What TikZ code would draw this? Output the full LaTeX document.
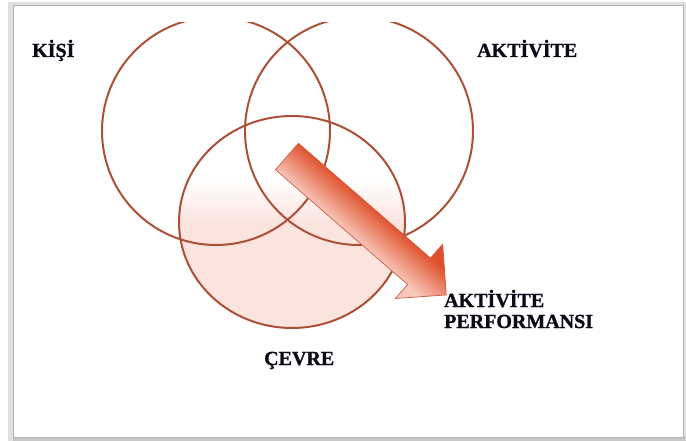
\documentclass[tikz,border=0pt]{standalone}
\usepackage{fontspec}
\setmainfont{Liberation Serif}[BoldFeatures={FakeBold=1.2}]
\definecolor{ringc}{RGB}{172,80,56}
\definecolor{pinkc}{RGB}{251,227,222}
\definecolor{arrowdark}{RGB}{222,80,42}
\definecolor{arrowlight}{RGB}{249,200,188}
\definecolor{arrowedge}{RGB}{205,92,66}
\definecolor{lblc}{RGB}{12,12,24}
\pgfdeclareverticalshading{cevrefill}{100bp}{color(0bp)=(pinkc); color(50bp)=(pinkc); color(60bp)=(white); color(100bp)=(white)}
\pgfdeclareverticalshading{arrowfill}{100bp}{color(0bp)=(arrowlight); color(37bp)=(arrowlight); color(63bp)=(arrowdark); color(100bp)=(arrowdark)}
\begin{document}
\begin{tikzpicture}[x=1pt,y=-1pt,
  ring/.style={draw=ringc, line width=2pt},
  lbl/.style={font=\fontsize{20}{21}\selectfont\bfseries, text=lblc, inner sep=0pt}]
\useasboundingbox (0,0) rectangle (686,441);
% frame with shadow
\fill[black!12] (8,2) rectangle (686,441);
\fill[black!22] (13,436) rectangle (686,441);
\fill[white] (13,5) rectangle (683,437);
\draw[black!30, line width=0.8pt] (13,5) rectangle (683,437);
% circles
\begin{scope}
  \clip (13,23) rectangle (683,437);
  \shade[shading=cevrefill] (292,222) ellipse [x radius=113pt, y radius=106pt];
  \draw[ring] (216,131) circle [radius=114pt];
  \draw[ring] (359,131) circle [radius=114pt];
  \draw[ring] (292,222) ellipse [x radius=113pt, y radius=106pt];
\end{scope}
% arrow
\begin{scope}[transform canvas={shift={(287,156.5)}, rotate=-41}]
  \shade[shading=arrowfill, draw=arrowedge, line width=0.7pt, line join=miter]
    (0,-17.5) -- (175,-17.5) -- (175,-36) -- (211,0) -- (175,36) -- (175,17.5) -- (0,17.5) -- cycle;
\end{scope}
% labels
\node[lbl, anchor=base west] (kisi) at (32,57) {KİŞİ};
\node[lbl, anchor=base west] (aktivite) at (477,57) {AKTİVİTE};
\node[lbl, anchor=base west, align=left] (perf) at (444,328) {AKTİVİTE\\PERFORMANSI};
\node[lbl, anchor=base west] (cevre) at (264,365) {ÇEVRE};
\end{tikzpicture}
\end{document}
